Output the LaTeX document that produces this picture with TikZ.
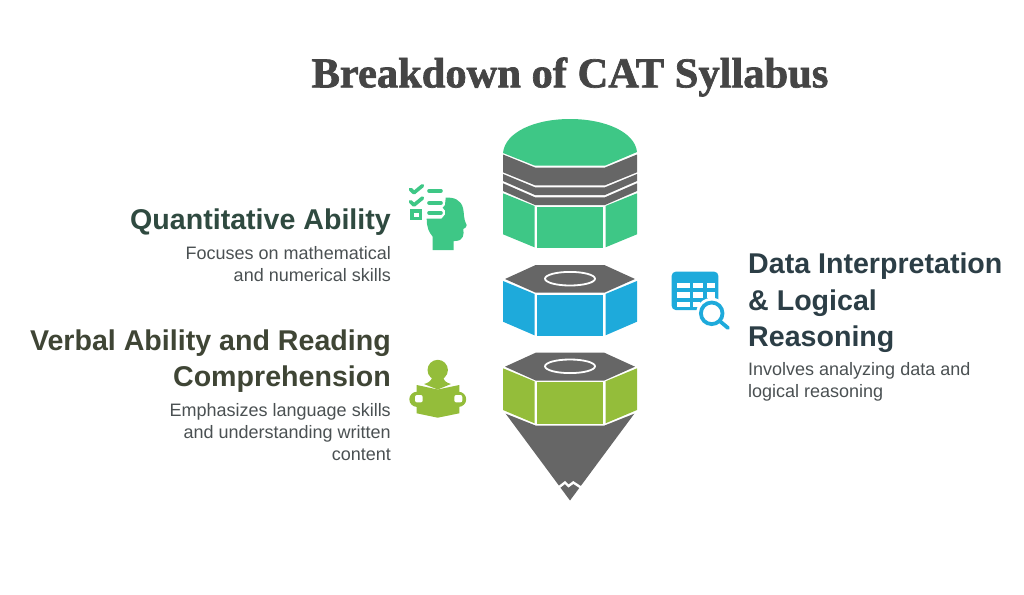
\documentclass[tikz,border=0pt]{standalone}
\usepackage{fontspec}
\setmainfont{Liberation Sans}
\newfontfamily\titlefont[BoldFeatures={FakeBold=1.6}]{Liberation Serif}
\definecolor{catgreen}{HTML}{3EC786}
\definecolor{catblue}{HTML}{1EAADB}
\definecolor{catolive}{HTML}{94BD3A}
\definecolor{catgray}{HTML}{666666}
\definecolor{headA}{HTML}{2F4A40}
\definecolor{headB}{HTML}{3F4535}
\definecolor{headC}{HTML}{2C3E46}
\definecolor{bodytext}{HTML}{4A5052}
\tikzset{
	heading/.style={font=\fontsize{28.6}{36.6}\selectfont\bfseries,align=#1,inner sep=0pt},
	blurb/.style={font=\fontsize{18}{22}\selectfont,text=bodytext,align=#1,inner sep=0pt},
	ring/.style={draw=white,line width=1.8pt}
}
\begin{document}
\begin{tikzpicture}[x=1pt,y=-1pt]
	\useasboundingbox (0,0) rectangle (1024,594);
	\node (title) at (570,77)[font=\titlefont\fontsize{42.5}{44}\selectfont\bfseries,text=black!73]{Breakdown of CAT Syllabus};
	% top block
	\fill[catgreen] (503,153) .. controls (505,132) and (535,119) .. (570,119) .. controls (605,119) and (635,132) .. (637,152) -- (605,165.7) -- (535,165.7) -- cycle;
	\fill[catgray] (503,154.5) -- (535,167.5) -- (605,167.5) -- (637,154.5) -- (637,172.3) -- (605,185.3) -- (535,185.3) -- (503,172.3) -- cycle;
	\fill[catgray] (503,174) -- (535,187.3) -- (605,187.3) -- (637,174) -- (637,181) -- (605,195) -- (535,195) -- (503,181) -- cycle;
	\fill[catgray] (503,183.3) -- (535,197.3) -- (605,197.3) -- (637,183.3) -- (637,191) -- (605,205) -- (535,205) -- (503,191) -- cycle;
	\fill[catgreen] (503,193.3) -- (534.5,206) -- (534.5,247.3) -- (503,234.3) -- cycle;
	\fill[catgreen] (537,207) rectangle (602.5,248.3);
	\fill[catgreen] (637,193.3) -- (605.5,206) -- (605.5,247.3) -- (637,234.3) -- cycle;
	% middle block
	\fill[catgray] (535.7,265) -- (604.3,265) -- (635,279) -- (604.3,292.7) -- (535.7,292.7) -- (505,279) -- cycle;
	\draw[ring] (570,278.7) ellipse(25 and 6.8);
	\fill[catblue] (503,281) -- (534.5,294) -- (534.5,335.3) -- (503,321.7) -- cycle;
	\fill[catblue] (537,294.7) rectangle (602.5,336);
	\fill[catblue] (637,281) -- (605.5,294) -- (605.5,335.3) -- (637,321.7) -- cycle;
	% bottom block
	\fill[catgray] (535.7,352.7) -- (604.3,352.7) -- (635,366.7) -- (604.3,380.5) -- (535.7,380.5) -- (505,366.7) -- cycle;
	\draw[ring] (570,366.3) ellipse(25 and 6.8);
	\fill[catolive] (503,368.3) -- (534.5,381.3) -- (534.5,423.3) -- (503,410) -- cycle;
	\fill[catolive] (537,382) rectangle (602.5,424);
	\fill[catolive] (637,368.3) -- (605.5,381.3) -- (605.5,423.3) -- (637,410) -- cycle;
	\fill[catgray] (505.7,413.7) -- (535.7,425.6) -- (604.3,425.6) -- (634.3,413.7) -- (570,500.5) -- cycle;
	\draw[white,line width=2.4pt] (556,489.5) -- (565,482.5) -- (568.5,486) -- (573.3,482.5) -- (584,489.5);
	% head icon
	\draw[catgreen,line width=3.6pt,line cap=round,line join=round] (410.5,189.3) -- (414,192.7) -- (422.5,185.7);
	\draw[catgreen,line width=3.6pt,line cap=round,line join=round] (410.5,201.6) -- (414,205) -- (422.5,198);
	\draw[catgreen,line width=3.6pt,line cap=round] (429,190.7) -- (441,190.7);
	\draw[catgreen,line width=3.6pt,line cap=round] (429,203) -- (441,203);
	\draw[catgreen,line width=3.6pt,line cap=round] (429,212.7) -- (441,212.7);
	\draw[catgreen,line width=3.4pt] (411.8,210.8) rectangle (420.5,218.2);
	\fill[catgreen] (445.7,197.7) .. controls (454,197) and (461,200) .. (463,208) .. controls (464.5,214) and (463,218) .. (466.7,225) .. controls (467,227) and (465,228) .. (463.3,229) .. controls (464,234) and (464,241) .. (455,241) -- (453.5,241) -- (453.5,250) -- (432.7,250) -- (432.7,236.7) .. controls (429,232) and (426.7,228) .. (426.7,218.5) -- (441.7,218.5) -- (445,214.5) -- (445,210.5) -- (442.7,207.7) -- (445,205) -- cycle;
	% table icon
	\fill[catblue,rounded corners=4pt] (671.7,271.7) rectangle (718.3,310);
	\fill[white] (676.7,282.7) rectangle (690,288.3);
	\fill[white] (693,282.7) rectangle (703,288.3);
	\fill[white] (706.7,282.7) rectangle (715,288.3);
	\fill[white] (676.7,292) rectangle (690,298);
	\fill[white] (693,292) rectangle (703,298);
	\fill[white] (706.7,292) rectangle (715,298);
	\fill[white] (676.7,301.7) rectangle (690,307.3);
	\fill[white] (693,301.7) rectangle (700,307.3);
	\fill[white] (711.7,313.3) circle(15.5);
	\draw[catblue,line width=3.8pt,fill=white] (711.7,313.3) circle(10.8);
	\draw[catblue,line width=3.8pt,line cap=round] (719.7,321) -- (728,328);
	% reader icon
	\fill[catolive] (437.7,370) circle(10.2);
	\fill[catolive] (432,378) -- (443.5,378) .. controls (444,381) and (447,383) .. (451,384) -- (437.7,389.5) -- (424,384) .. controls (428,383) and (431,381) .. (432,378) -- cycle;
	\fill[catolive] (417,399.3) ellipse(7.7 and 7.6);
	\fill[catolive] (458.5,399.3) ellipse(7.7 and 7.6);
	\fill[catolive] (416.7,385) -- (437.7,389.5) -- (459.3,385) -- (459.3,413.3) -- (437.7,417.7) -- (416.7,413.3) -- cycle;
	\fill[white,rounded corners=2pt] (415,395) rectangle (422.7,402.4);
	\fill[white,rounded corners=2pt] (454.3,395) rectangle (462.3,402.4);
	% texts
	\node (quant) at (391,222.5)[left,heading=right,text=headA]{Quantitative Ability};
	\node (quantnote) at (391,264)[left,blurb=right]{Focuses on mathematical\\and numerical skills};
	\node (verbal) at (391,361)[left,heading=right,text=headB]{Verbal Ability and Reading\\Comprehension};
	\node (verbalnote) at (391,432)[left,blurb=right]{Emphasizes language skills\\and understanding written\\content};
	\node (data) at (748,303)[right,heading=left,text=headC]{Data Interpretation\\\& Logical\\Reasoning};
	\node (datanote) at (748,381.5)[right,blurb=left]{Involves analyzing data and\\logical reasoning};
\end{tikzpicture}
\end{document}
